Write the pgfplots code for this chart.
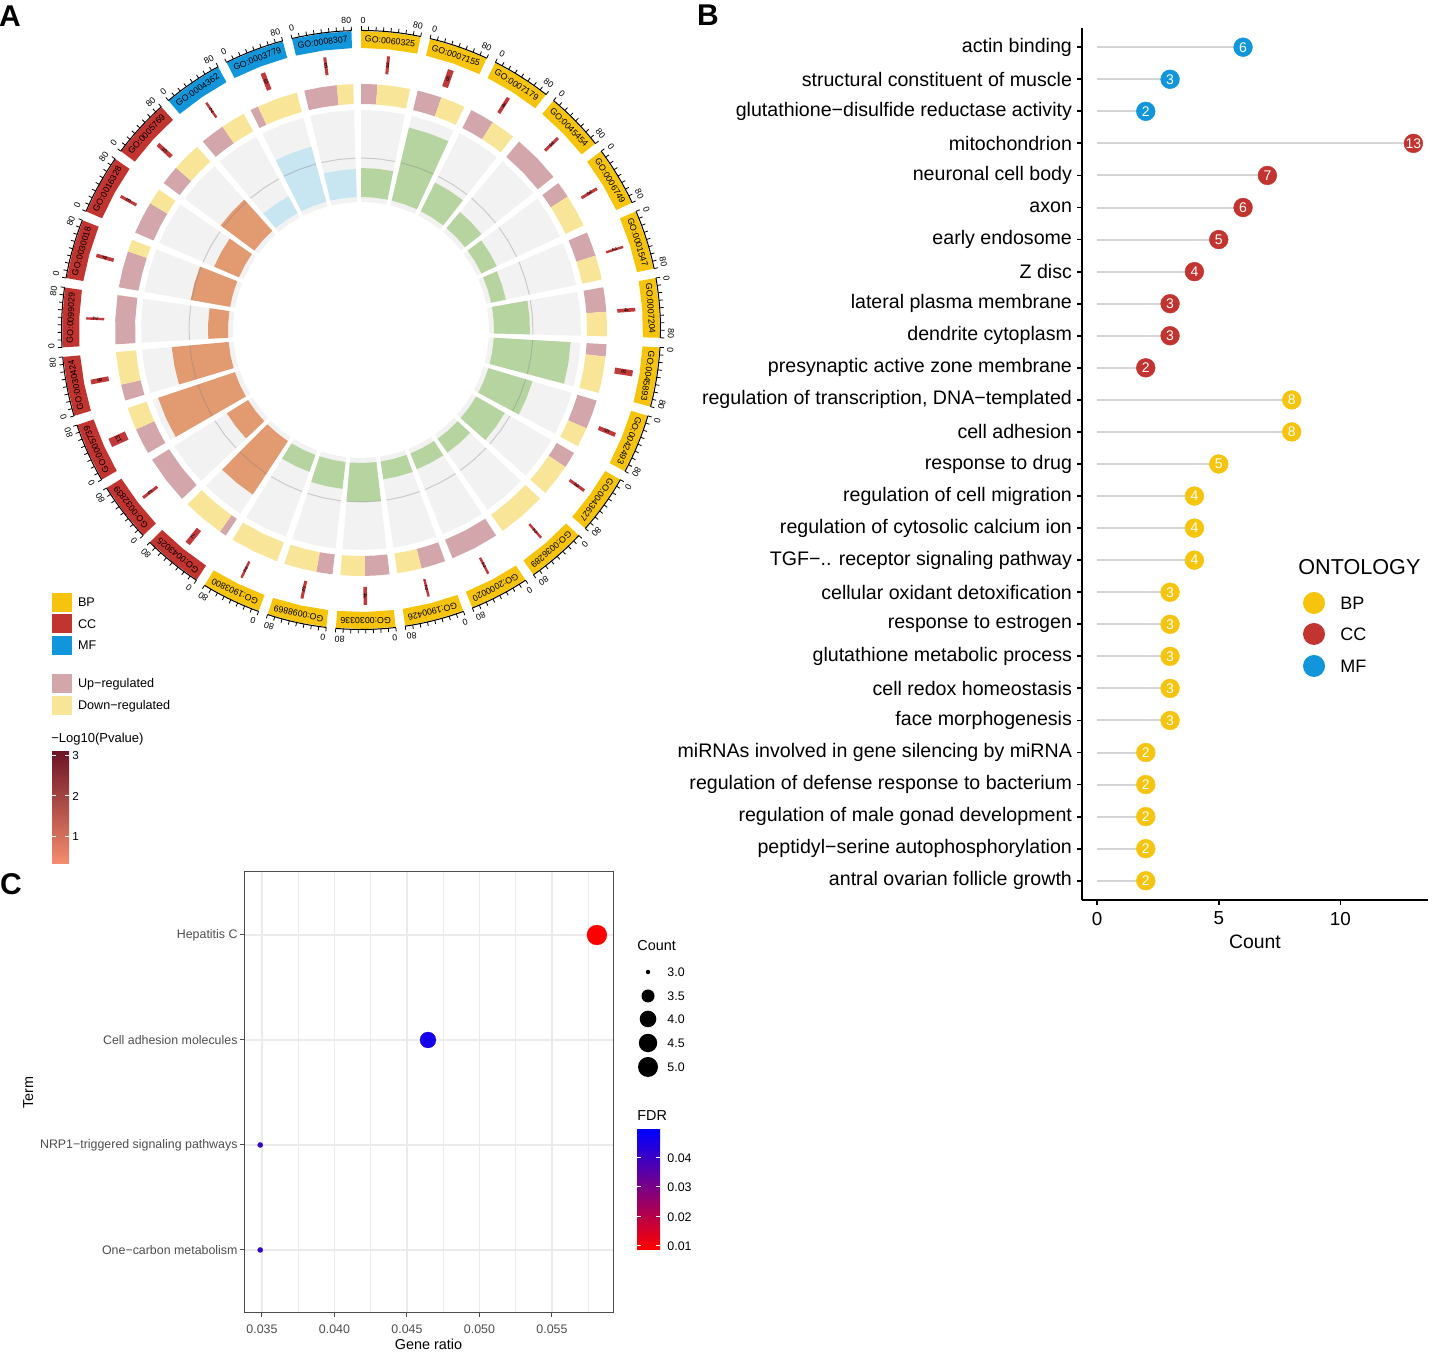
\documentclass[border=0pt]{standalone}
\usepackage{fontspec}
\setmainfont{Liberation Sans}
\usepackage{pgfplots}
\pgfplotsset{compat=1.18}

\definecolor{boxBP}{HTML}{F6C40C}
\definecolor{boxCC}{HTML}{C23430}
\definecolor{boxMF}{HTML}{1196DC}
\definecolor{barBP}{HTML}{B5D4A0}
\definecolor{barCC}{HTML}{E29A70}
\definecolor{barMF}{HTML}{C8E5F2}
\definecolor{bgring}{HTML}{F2F2F2}
\definecolor{upc}{HTML}{D2A6AA}
\definecolor{downc}{HTML}{F9E598}
\definecolor{markc}{HTML}{C0393B}
\definecolor{stemc}{HTML}{D4D4D4}
\definecolor{gridc}{HTML}{EBEBEB}
\definecolor{txtc}{HTML}{4D4D4D}
\definecolor{pdark}{HTML}{6E1526}
\definecolor{plight}{HTML}{F68D6E}
\definecolor{fdrlow}{HTML}{FF0000}
\definecolor{fdrmid}{HTML}{B8008E}
\definecolor{fdrhigh}{HTML}{0000FF}

\newcommand\fs[1]{\fontsize{#1}{#1}\selectfont}

% index / GO id / ontology / count / bar outer radius / up fraction
\def\sectors{%
0/GO:0060325/BP/3/162/0.333,%
1/GO:0007155/BP/8/208/0.5,%
2/GO:0007179/BP/4/165/0.5,%
3/GO:0045454/BP/3/154/1,%
4/GO:0006749/BP/3/150/0.333,%
5/GO:0001547/BP/2/148/0.5,%
6/GO:0007204/BP/4/169/0.5,%
7/GO:0045893/BP/8/210/0.25,%
8/GO:0042493/BP/5/179/0.6,%
9/GO:0043627/BP/3/166/0.333,%
10/GO:0036289/BP/2/150/0,%
11/GO:2000020/BP/2/150/1,%
12/GO:1900426/BP/2/151/0.5,%
13/GO:0030336/BP/4/172/0.5,%
14/GO:0098869/BP/3/160/0.333,%
15/GO:1903800/BP/2/151/0,%
16/GO:0043025/CC/7/197/0.143,%
17/GO:0032839/CC/3/158/1,%
18/GO:0005739/CC/13/214/0.538,%
19/GO:0030424/CC/6/190/0.333,%
20/GO:0099029/CC/2/153/1,%
21/GO:0030018/CC/4/173/0.75,%
22/GO:0016328/CC/3/160/0.667,%
23/GO:0005769/CC/5/175/0.4,%
24/GO:0004362/MF/2/152/0.5,%
25/GO:0003779/MF/6/190/0.167,%
26/GO:0008307/MF/3/161/0.667}

\begin{document}
\begin{tikzpicture}[x=0.5pt,y=0.5pt]
\useasboundingbox (0,0) rectangle (1435,1353);

% ---------------- panel A: circular plot ----------------
\begin{axis}[at={(180.5pt,511.5pt)}, anchor=center, scale only axis,
  width=320pt, height=320pt,
  xmin=-320, xmax=320, ymin=-320, ymax=320,
  hide axis, clip=false]
\foreach \ki/\gol/\ont/\cnt/\rb/\fu in \sectors {
  \pgfmathsetmacro\aA{90-13.3333*\ki}
  \pgfmathsetmacro\aB{\aA-11.5}
  \pgfmathsetmacro\aM{\aA-5.75}
  \pgfmathsetmacro\aU{\aA-11.5*\fu}
  \pgfmathsetmacro\aUm{(\aA+\aU)/2}
  \pgfmathsetmacro\aDm{(\aU+\aB)/2}
  \pgfmathsetmacro\lw{0.6+0.3*\cnt}
  \edef\temp{%
    \noexpand\addplot[draw=none, fill=bgring, data cs=polar] coordinates
      {(\aA,128)(\aM,128)(\aB,128)(\aB,220)(\aM,220)(\aA,220)};
    \noexpand\addplot[draw=none, fill=bar\ont, data cs=polar] coordinates
      {(\aA,133)(\aM,133)(\aB,133)(\aB,\rb)(\aM,\rb)(\aA,\rb)};
    \noexpand\addplot[gray, opacity=0.35, line width=0.5pt, data cs=polar] coordinates
      {(\aA,172)(\aM,172)(\aB,172)};
    \noexpand\addplot[draw=none, fill=upc, data cs=polar] coordinates
      {(\aA,226)(\aUm,226)(\aU,226)(\aU,246)(\aUm,246)(\aA,246)};
    \noexpand\addplot[draw=none, fill=downc, data cs=polar] coordinates
      {(\aU,226)(\aDm,226)(\aB,226)(\aB,246)(\aDm,246)(\aU,246)};
    \noexpand\addplot[markc, line width=\lw pt, data cs=polar] coordinates
      {(\aM,257)(\aM,275)};
    \noexpand\addplot[draw=none, fill=box\ont, data cs=polar] coordinates
      {(\aA,282)(\aM,282)(\aB,282)(\aB,299)(\aM,299)(\aA,299)};
  }\temp
}
\end{axis}

% labels and scales of the outer track
\foreach \ki/\gol/\ont/\cnt/\rb/\fu in \sectors {
  \pgfmathsetmacro\aA{90-13.3333*\ki}
  \pgfmathsetmacro\aB{\aA-11.5}
  \pgfmathsetmacro\aM{\aA-5.75}
  \node[rotate=\aM-90, font=\fs{4.4}, inner sep=0pt] at ([shift={(361,1023)}]\aM:290.5) {\gol};
  \node[rotate=\aA-90, font=\fs{4.4}, inner sep=0pt] at ([shift={(361,1023)}]\aA-0.4:310) {0};
  \node[rotate=\aB-90, font=\fs{4.4}, inner sep=0pt] at ([shift={(361,1023)}]\aB+0.9:310) {80};
  \node[rotate=\aM-90, font=\fs{3.3}, inner sep=0pt] at ([shift={(361,1023)}]\aM:266) {\cnt};
  \draw[line width=0.5pt] ([shift={(361,1023)}]\aA:299.5) arc[start angle=\aA, end angle=\aB, radius=149.75pt];
  \foreach \j in {0,...,8} {
    \pgfmathsetmacro\aT{\aA-1.4375*\j}
    \draw[line width=0.4pt] ([shift={(361,1023)}]\aT:299.5) -- ([shift={(361,1023)}]\aT:303.5);
  }
}

% legend of panel A
\fill[boxBP] (52,741) rectangle (72,760);
\fill[boxCC] (52,720) rectangle (72,739);
\fill[boxMF] (52,698) rectangle (72,717);
\node[anchor=west, font=\fs{6.3}] at (71,751) {BP};
\node[anchor=west, font=\fs{6.3}] at (71,729) {CC};
\node[anchor=west, font=\fs{6.3}] at (71,708) {MF};
\fill[upc] (52,660) rectangle (72,679);
\fill[downc] (52,638) rectangle (72,657);
\node[anchor=west, font=\fs{6.3}] at (71,669) {Up−regulated};
\node[anchor=west, font=\fs{6.3}] at (71,647) {Down−regulated};
\node[anchor=west, font=\fs{6.5}, inner sep=0pt] at (51,614) {−Log10(Pvalue)};
\shade[top color=pdark, bottom color=plight] (52,489) rectangle (69,601);
\foreach \yy/\tl in {597/3,557/2,516/1} {
  \draw[white, line width=0.5pt] (52,\yy) -- (56,\yy);
  \draw[white, line width=0.5pt] (65,\yy) -- (69,\yy);
  \node[anchor=west, font=\fs{5.8}, inner sep=0pt] at (72,\yy) {\tl};
}

% ---------------- panel B: lollipop ----------------
\begin{axis}[at={(541pt,226.5pt)}, anchor=south west, scale only axis,
  width=173pt, height=436pt,
  xmin=-0.62, xmax=13.6, ymin=0.4, ymax=27.6,
  axis x line*=bottom, axis y line*=left,
  axis line style={line width=0.9pt, black},
  xtick={0,5,10}, xticklabels={0,5,10},
  ytick={1,...,27},
  yticklabels={antral ovarian follicle growth,
    peptidyl−serine autophosphorylation,
    regulation of male gonad development,
    regulation of defense response to bacterium,
    miRNAs involved in gene silencing by miRNA,
    face morphogenesis,
    cell redox homeostasis,
    glutathione metabolic process,
    response to estrogen,
    cellular oxidant detoxification,
    TGF−.. receptor signaling pathway,
    regulation of cytosolic calcium ion,
    regulation of cell migration,
    response to drug,
    cell adhesion,
    {regulation of transcription, DNA−templated},
    presynaptic active zone membrane,
    dendrite cytoplasm,
    lateral plasma membrane,
    Z disc,
    early endosome,
    axon,
    neuronal cell body,
    mitochondrion,
    glutathione−disulfide reductase activity,
    structural constituent of muscle,
    actin binding},
  tick align=outside, major tick length=2.5pt,
  tick style={line width=0.9pt, black},
  xticklabel style={font=\fs{9.4}},
  yticklabel style={font=\fs{9.8}, xshift=1pt},
  xlabel={Count}, xlabel style={font=\fs{9.7}, yshift=2pt},
  clip=false,
  lolli/.style={xcomb, stemc, line width=1pt, mark=*, mark size=4.7pt,
    mark options={draw=#1, fill=#1, line width=0.2pt},
    nodes near coords, point meta=explicit symbolic,
    nodes near coords align={anchor=center},
    every node near coord/.append style={anchor=center, font=\fs{7}, text=white, inner sep=0pt}}]
\addplot[lolli=boxMF] coordinates {(6,27)[6] (3,26)[3] (2,25)[2]};
\addplot[lolli=boxCC] coordinates {(13,24)[13] (7,23)[7] (6,22)[6] (5,21)[5]
  (4,20)[4] (3,19)[3] (3,18)[3] (2,17)[2]};
\addplot[lolli=boxBP] coordinates {(8,16)[8] (8,15)[8] (5,14)[5] (4,13)[4]
  (4,12)[4] (4,11)[4] (3,10)[3] (3,9)[3] (3,8)[3] (3,7)[3] (3,6)[3]
  (2,5)[2] (2,4)[2] (2,3)[2] (2,2)[2] (2,1)[2]};
\end{axis}

\node[anchor=west, font=\fs{10.8}, inner sep=0pt] at (1298,786) {ONTOLOGY};
\fill[boxBP] (1314,750) circle[radius=5.5pt];
\fill[boxCC] (1314,719) circle[radius=5.5pt];
\fill[boxMF] (1314,687) circle[radius=5.5pt];
\node[anchor=west, font=\fs{9}, inner sep=0pt] at (1340,750) {BP};
\node[anchor=west, font=\fs{9}, inner sep=0pt] at (1340,719) {CC};
\node[anchor=west, font=\fs{9}, inner sep=0pt] at (1340,687) {MF};

% ---------------- panel C: bubble chart ----------------
\begin{axis}[at={(122pt,20pt)}, anchor=south west, scale only axis,
  width=184.5pt, height=220.5pt,
  xmin=0.03376, xmax=0.05921, ymin=0.4, ymax=4.6,
  scaled x ticks=false,
  xtick={0.035,0.04,0.045,0.05,0.055},
  xticklabels={0.035,0.040,0.045,0.050,0.055},
  minor xtick={0.0375,0.0425,0.0475,0.0525,0.0575},
  ytick={1,2,3,4},
  yticklabels={One−carbon metabolism,NRP1−triggered signaling pathways,
    Cell adhesion molecules,Hepatitis C},
  xmajorgrids, xminorgrids, ymajorgrids,
  major grid style={gridc, line width=0.6pt},
  minor grid style={gridc, line width=0.35pt},
  axis line style={gray!60!black, line width=0.5pt},
  tick align=outside, tick pos=left,
  major tick length=2.2pt, minor tick length=0pt,
  tick style={gray!60!black, line width=0.5pt},
  ticklabel style={font=\fs{6.2}, text=txtc},
  yticklabel style={xshift=2.5pt},
  xlabel={Gene ratio}, ylabel={Term},
  xlabel style={font=\fs{7.2}, yshift=4pt},
  ylabel style={font=\fs{7.2}},
  ylabel shift=-3.5pt,
  clip=false]
\addplot[only marks, mark=*, mark size=5pt, mark options={draw=fdrlow, fill=fdrlow, line width=0.1pt}]
  coordinates {(0.0581,4)};
\addplot[only marks, mark=*, mark size=4pt, mark options={draw=fdrhigh!92!red, fill=fdrhigh!92!red, line width=0.1pt}]
  coordinates {(0.04645,3)};
\addplot[only marks, mark=*, mark size=1.3pt, mark options={draw=fdrhigh!80!red, fill=fdrhigh!80!red, line width=0.1pt}]
  coordinates {(0.03488,2) (0.03488,1)};
\end{axis}

\node[anchor=west, font=\fs{7.2}, inner sep=0pt] at (637,407) {Count};
\foreach \yy/\rr/\tl in {381/1.1/3.0,357/3.25/3.5,334/4.15/4.0,310/4.6/4.5,286/5.0/5.0} {
  \fill[black] (648,\yy) circle[radius=\rr pt];
  \node[anchor=west, font=\fs{6.2}, inner sep=0pt] at (667,\yy) {\tl};
}
\node[anchor=west, font=\fs{7.2}, inner sep=0pt] at (637,237) {FDR};
\shade[top color=fdrhigh, middle color=fdrmid, bottom color=fdrlow] (637,103) rectangle (660,223);
\foreach \yy/\tl in {195/0.04,166/0.03,136/0.02,107/0.01} {
  \draw[white, line width=0.5pt] (637,\yy) -- (641,\yy);
  \draw[white, line width=0.5pt] (656,\yy) -- (660,\yy);
  \node[anchor=west, font=\fs{6.2}, inner sep=0pt] at (667,\yy) {\tl};
}

% panel letters
\node[font=\fs{15}\bfseries, inner sep=0pt] at (10,1337) {A};
\node[font=\fs{15}\bfseries, inner sep=0pt] at (708,1338) {B};
\node[font=\fs{15}\bfseries, inner sep=0pt] at (11,469) {C};
\end{tikzpicture}
\end{document}
